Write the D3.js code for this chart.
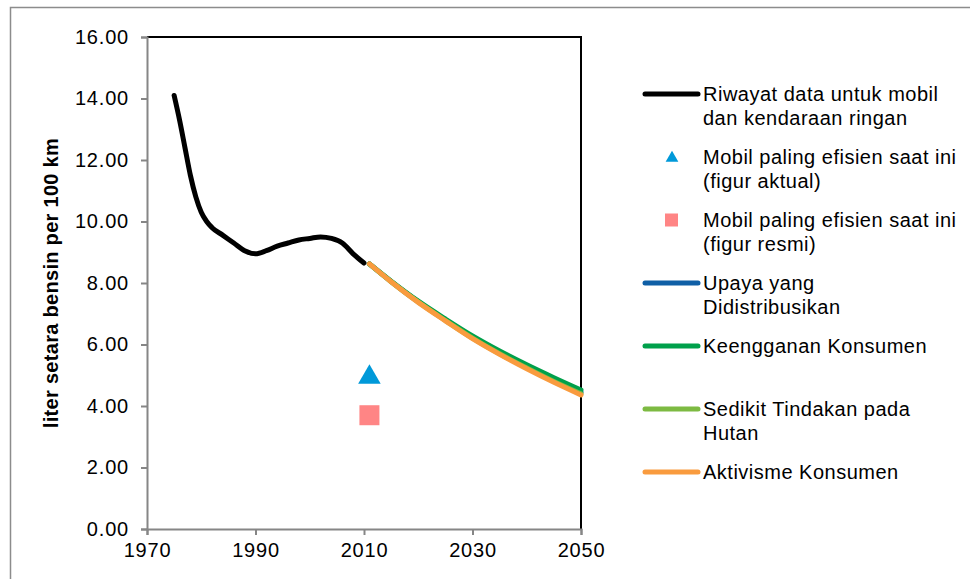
<!DOCTYPE html>
<html>
<head>
<meta charset="utf-8">
<script src="https://cdn.jsdelivr.net/npm/d3@7.9.0/dist/d3.min.js"></script>
<style>
  body { margin: 0; background: #fff; }
  svg { display: block; font-family: "Liberation Sans", Arial, sans-serif; }
</style>
</head>
<body>
<svg width="970" height="579"></svg>
<script>
// historic data, cars and light vehicles
const histYears = [1975, 1976, 1977, 1978, 1979, 1980, 1981, 1982, 1984, 1986, 1988, 1990, 1992, 1994, 1996, 1998, 2000, 2002, 2004, 2006, 2008, 2010];
const histValues = [14.1, 13.3, 12.4, 11.5, 10.8, 10.3, 10.0, 9.8, 9.55, 9.3, 9.05, 8.95, 9.05, 9.2, 9.3, 9.4, 9.45, 9.5, 9.45, 9.3, 8.95, 8.65];

// scenario projections
const projYears = [2011, 2015, 2020, 2025, 2030, 2035, 2040, 2045, 2050];
const upaya = [8.62, 8.05, 7.39, 6.80, 6.24, 5.74, 5.28, 4.85, 4.45];
const keengganan = [8.62, 8.06, 7.41, 6.83, 6.28, 5.79, 5.34, 4.92, 4.52];
const sedikit = [8.62, 8.04, 7.38, 6.78, 6.21, 5.70, 5.24, 4.80, 4.40];
const aktivisme = [8.62, 8.04, 7.37, 6.77, 6.19, 5.68, 5.21, 4.77, 4.36];

// most efficient current car
const bestYear = 2011;
const bestActual = 5.0;
const bestOfficial = 3.7;

const xTicks = [1970, 1990, 2010, 2030, 2050];
const yTicks = [0, 2, 4, 6, 8, 10, 12, 14, 16];

const svg = d3.select('svg');

// outer chart border (only top and left visible)
svg.append('path')
  .attr('d', 'M10.5,579 V7.5 H970')
  .attr('fill', 'none')
  .attr('stroke', '#8c8c8c')
  .attr('stroke-width', 1.5);

const x = d3.scaleLinear().domain([1970, 2050]).range([147, 581]);
const y = d3.scaleLinear().domain([0, 16]).range([529, 37]);

// frame: black top & right
svg.append('path')
  .attr('d', `M${x(1970)},${y(16)} H${x(2050)} V${y(0)}`)
  .attr('fill', 'none')
  .attr('stroke', '#000')
  .attr('stroke-width', 2);

const yAxis = svg.append('g')
  .attr('transform', `translate(${x(1970)},0)`)
  .call(d3.axisLeft(y).tickValues(yTicks).tickFormat(d3.format('.2f')).tickSize(6).tickPadding(12));
const xAxis = svg.append('g')
  .attr('transform', `translate(0,${y(0)})`)
  .call(d3.axisBottom(x).tickValues(xTicks).tickFormat(d3.format('d')).tickSize(6).tickPadding(8));

[yAxis, xAxis].forEach(g => {
  g.selectAll('path.domain').attr('stroke', '#868686').attr('stroke-width', 2);
  g.selectAll('line').attr('stroke', '#868686').attr('stroke-width', 2);
  g.selectAll('text').attr('font-size', 20).attr('fill', '#000')
    .attr('letter-spacing', 0.8)
    .attr('font-family', '"Liberation Sans", Arial, sans-serif');
});

svg.append('text')
  .attr('transform', `translate(58,${(y(0) + y(16)) / 2}) rotate(-90)`)
  .attr('text-anchor', 'middle')
  .attr('font-size', 20)
  .attr('letter-spacing', 0.3)
  .attr('font-weight', 'bold')
  .text('liter setara bensin per 100 km');

const line = d3.line().curve(d3.curveMonotoneX);

const hist = histYears.map((yr, i) => [x(yr), y(histValues[i])]);
svg.append('path')
  .attr('d', line(hist))
  .attr('fill', 'none')
  .attr('stroke', '#000')
  .attr('stroke-width', 5)
  .attr('stroke-linecap', 'round');

const series = [
  { name: 'Upaya yang\nDidistribusikan', values: upaya, color: '#0F5FA6' },
  { name: 'Keengganan Konsumen', values: keengganan, color: '#00A04B' },
  { name: 'Sedikit Tindakan pada\nHutan', values: sedikit, color: '#7DBA42' },
  { name: 'Aktivisme Konsumen', values: aktivisme, color: '#F99B3E' }
];

series.forEach(s => {
  svg.append('path')
    .attr('d', line(projYears.map((yr, i) => [x(yr), y(s.values[i])])))
    .attr('fill', 'none')
    .attr('stroke', s.color)
    .attr('stroke-width', 5)
    .attr('stroke-linecap', 'round');
});

// points
svg.append('path')
  .attr('d', d3.symbol().type(d3.symbolTriangle).size(220)())
  .attr('transform', `translate(${x(bestYear)},${y(bestActual) + 2})`)
  .attr('fill', '#0099D9');
svg.append('rect')
  .attr('x', x(bestYear) - 10).attr('y', y(bestOfficial) - 10)
  .attr('width', 20).attr('height', 20)
  .attr('fill', '#FF8585');

// legend
const legend = [
  { label: 'Riwayat data untuk mobil\ndan kendaraan ringan', type: 'line', color: '#000' },
  { label: 'Mobil paling efisien saat ini\n(figur aktual)', type: 'triangle', color: '#0099D9' },
  { label: 'Mobil paling efisien saat ini\n(figur resmi)', type: 'square', color: '#FF8585' },
  ...series.map(s => ({ label: s.name, type: 'line', color: s.color }))
];

const lg = svg.append('g');
legend.forEach((d, i) => {
  const cy = 94 + i * 63;
  const row = lg.append('g').attr('transform', `translate(0,${cy})`);
  if (d.type === 'line') {
    row.append('line')
      .attr('x1', 645).attr('x2', 698)
      .attr('stroke', d.color).attr('stroke-width', 5).attr('stroke-linecap', 'round');
  } else if (d.type === 'triangle') {
    row.append('path')
      .attr('d', d3.symbol().type(d3.symbolTriangle).size(70)())
      .attr('transform', 'translate(672,1)')
      .attr('fill', d.color);
  } else {
    row.append('rect')
      .attr('x', 665).attr('y', -6.5).attr('width', 13).attr('height', 13)
      .attr('fill', d.color);
  }
  const t = row.append('text')
    .attr('x', 703)
    .attr('font-size', 20)
    .attr('letter-spacing', 0.5)
    .attr('fill', '#000');
  d.label.split('\n').forEach((ln, k) => {
    t.append('tspan').attr('x', 703).attr('y', 7 + k * 24).text(ln);
  });
});
</script>
</body>
</html>
